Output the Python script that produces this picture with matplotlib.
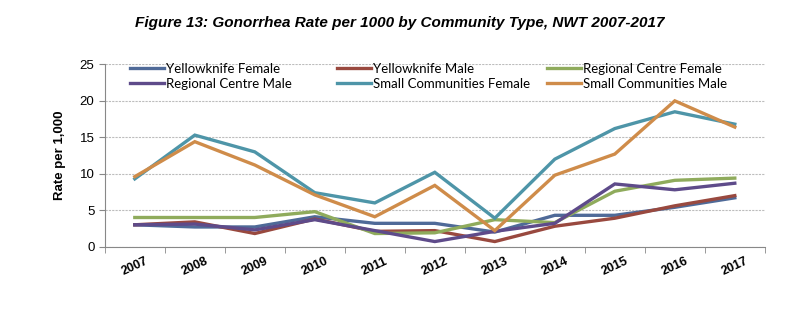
import matplotlib
matplotlib.use("Agg")
import matplotlib.pyplot as plt
import numpy as np

years = ["2007", "2008", "2009", "2010", "2011", "2012", "2013", "2014", "2015", "2016", "2017"]
yk_female = [3.0, 2.7, 2.7, 4.1, 3.2, 3.2, 2.0, 4.3, 4.3, 5.4, 6.7]
yk_male = [3.0, 3.4, 1.8, 3.8, 2.1, 2.2, 0.7, 2.8, 3.9, 5.6, 7.0]
rc_female = [4.0, 4.0, 4.0, 4.8, 1.8, 1.9, 3.7, 3.3, 7.6, 9.1, 9.4]
rc_male = [3.0, 3.1, 2.3, 3.7, 2.2, 0.7, 2.1, 3.2, 8.6, 7.8, 8.7]
sc_female = [9.3, 15.3, 13.0, 7.4, 6.0, 10.2, 3.9, 12.0, 16.2, 18.5, 16.8]
sc_male = [9.6, 14.4, 11.2, 7.1, 4.1, 8.4, 2.2, 9.8, 12.7, 20.0, 16.4]

series = [
    ("Yellowknife Female", yk_female, "#4f6a98"),
    ("Yellowknife Male", yk_male, "#99493f"),
    ("Regional Centre Female", rc_female, "#8fab5c"),
    ("Regional Centre Male", rc_male, "#5e4b8a"),
    ("Small Communities Female", sc_female, "#4e95a8"),
    ("Small Communities Male", sc_male, "#cf8c4a"),
]

fig = plt.figure(figsize=(8, 3.22), dpi=100)
ax = fig.add_axes([0.131, 0.234, 0.825, 0.566])
x = np.arange(len(years))
handles = []
for name, vals, col in series:
    h, = ax.plot(x, vals, color=col, lw=2.4, label=name, solid_joinstyle="miter")
    handles.append(h)

ax.set_xlim(-0.5, len(years) - 0.5)
ax.set_ylim(0, 25)
ax.set_yticks([0, 5, 10, 15, 20, 25])
ax.set_yticklabels(["0", "5", "10", "15", "20", "25"], fontsize=9.5,
                   family=["Liberation Sans Narrow", "Liberation Sans", "DejaVu Sans"])
ax.yaxis.grid(True, color="#bdbdbd", lw=0.8, ls=(0, (2, 1)))
ax.set_axisbelow(True)
ax.set_xticks(x)
ax.set_xticklabels(years, rotation=25, fontsize=9, fontweight="bold",
                   family=["Liberation Sans Narrow", "Liberation Sans", "DejaVu Sans"])
ax.tick_params(axis="x", which="major", length=0, pad=6)
ax.set_xticks(np.arange(-0.5, len(years)), minor=True)
ax.tick_params(axis="x", which="minor", length=4, color="#888888")
ax.tick_params(axis="y", length=4, color="#888888")
for s in ["top", "right"]:
    ax.spines[s].set_visible(False)
for s in ["left", "bottom"]:
    ax.spines[s].set_color("#888888")

ax.set_ylabel("Rate per 1,000", fontsize=9.5, fontweight="bold", labelpad=10,
              family=["Liberation Sans", "DejaVu Sans"])

# legend: three columns placed at fixed positions (row-major order)
col_groups = [[0, 3], [1, 4], [2, 5]]
col_x = [0.02, 0.334, 0.652]
legs = []
for grp, cx in zip(col_groups, col_x):
    lg = ax.legend([handles[i] for i in grp], [series[i][0] for i in grp],
                   loc="upper left", bbox_to_anchor=(cx, 1.075), frameon=False,
                   handlelength=2.6, handletextpad=0.1, labelspacing=0.25,
                   prop={"family": ["Lato", "DejaVu Sans"], "size": 9.5})
    legs.append(lg)
for lg in legs[:-1]:
    ax.add_artist(lg)

fig.text(0.5, 0.93, "Figure 13: Gonorrhea Rate per 1000 by Community Type, NWT 2007-2017",
         ha="center", va="center", fontsize=11, fontweight="bold", style="italic",
         family=["Liberation Sans", "DejaVu Sans"])

fig.savefig("out.png", dpi=100)
